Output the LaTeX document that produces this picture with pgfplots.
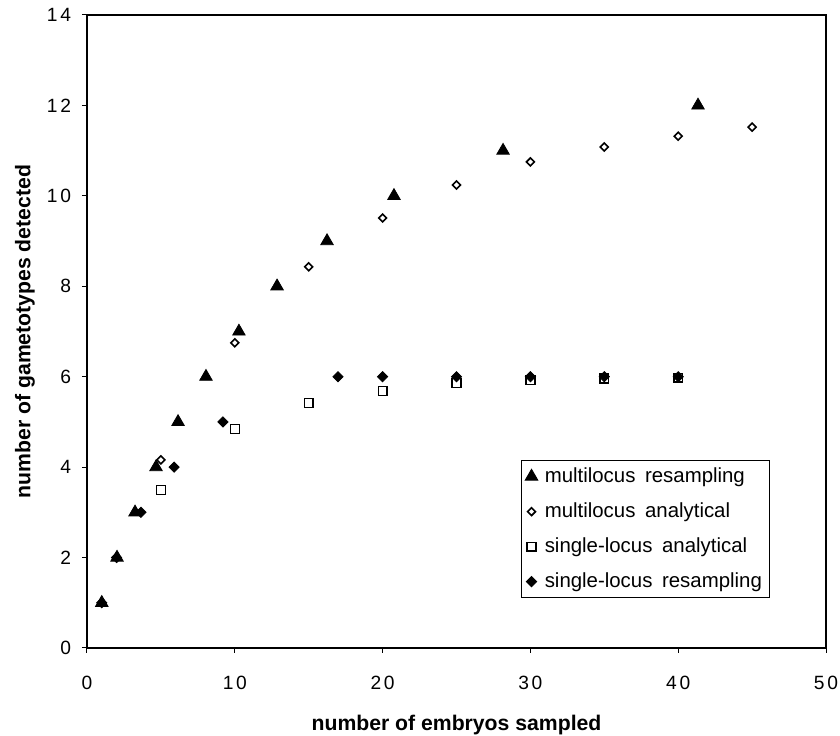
\documentclass[border=0pt]{standalone}
\usepackage{pgfplots}
\pgfplotsset{compat=1.18}
\usepackage{fontspec}
\setmainfont{Liberation Sans}
\newfontfamily\legfont[WordSpace=1.7]{Liberation Sans}
\newfontfamily\tickfont[LetterSpace=14]{Liberation Sans}
\begin{document}
\begin{tikzpicture}
\begin{axis}[
  scale only axis, width=369.5pt, height=316.5pt,
  xmin=0, xmax=50, ymin=0, ymax=14,
  xtick={0,10,...,50}, ytick={0,2,...,14},
  tick align=outside, tick pos=left, major tick length=2.5pt,
  axis line style={line width=0.6pt},
  every tick/.style={black, line width=0.5pt},
  /pgf/number format/assume math mode=true,
  ticklabel style={font=\tickfont\fontsize{9.6}{11}\selectfont},
  xticklabel style={yshift=-8pt},
  yticklabel style={xshift=-2pt},
  xlabel={number of embryos sampled},
  ylabel={number of gametotypes detected},
  label style={font=\bfseries\fontsize{10.6}{12}\selectfont},
  xlabel style={at={(axis description cs:0.5,0)}, anchor=center, yshift=-38.5pt},
  ylabel style={at={(axis description cs:0,0.5)}, anchor=center, yshift=31pt},
  legend cell align=left,
  legend style={at={(rel axis cs:0.587,0.079)}, anchor=south west, draw=black, line width=0.5pt,
    font=\legfont\fontsize{10.2}{12}\selectfont, row sep=4.6pt, column sep=1.5pt,
    inner xsep=2pt, inner ysep=1.5pt},
]
\addplot[only marks, mark=triangle*, mark size=3.6pt, black, mark options={fill=black}] coordinates {
 (1,1) (2.03,2) (3.25,3) (4.67,4) (6.16,5) (8.05,6) (10.28,7) (12.86,8) (16.24,9) (20.77,10) (28.15,11) (41.34,12)};
\addlegendentry{multilocus resampling}
\addplot[only marks, mark=square, mark size=1.4pt, black, mark options={rotate=45, line width=0.8pt, fill=white}] coordinates {
 (5,4.16) (10,6.75) (15,8.43) (20,9.51) (25,10.24) (30,10.75) (35,11.08) (40,11.32) (45,11.52)};
\addlegendentry{multilocus analytical}
\addplot[only marks, mark=square, mark size=2.2pt, black, mark options={line width=0.7pt, fill=white}] coordinates {
 (5,3.49) (10,4.84) (15,5.42) (20,5.68) (25,5.86) (30,5.92) (35,5.96) (40,5.98)};
\addlegendentry{single-locus analytical}
\addplot[only marks, mark=square*, mark size=1.8pt, black, mark options={rotate=45, fill=black}] coordinates {
 (1,1) (2,2) (3.65,3) (5.89,4) (9.2,5) (16.98,6) (20,6) (25,6) (30,6) (35,6) (40,6)};
\addlegendentry{single-locus resampling}
\end{axis}
\pgfresetboundingbox
\path (current axis.south west) ++(-43.5pt,-44pt) coordinate (bbA);
\path (current axis.north east) ++(7pt,7.5pt) coordinate (bbB);
\path[use as bounding box] (bbA) rectangle (bbB);
\end{tikzpicture}
\end{document}
